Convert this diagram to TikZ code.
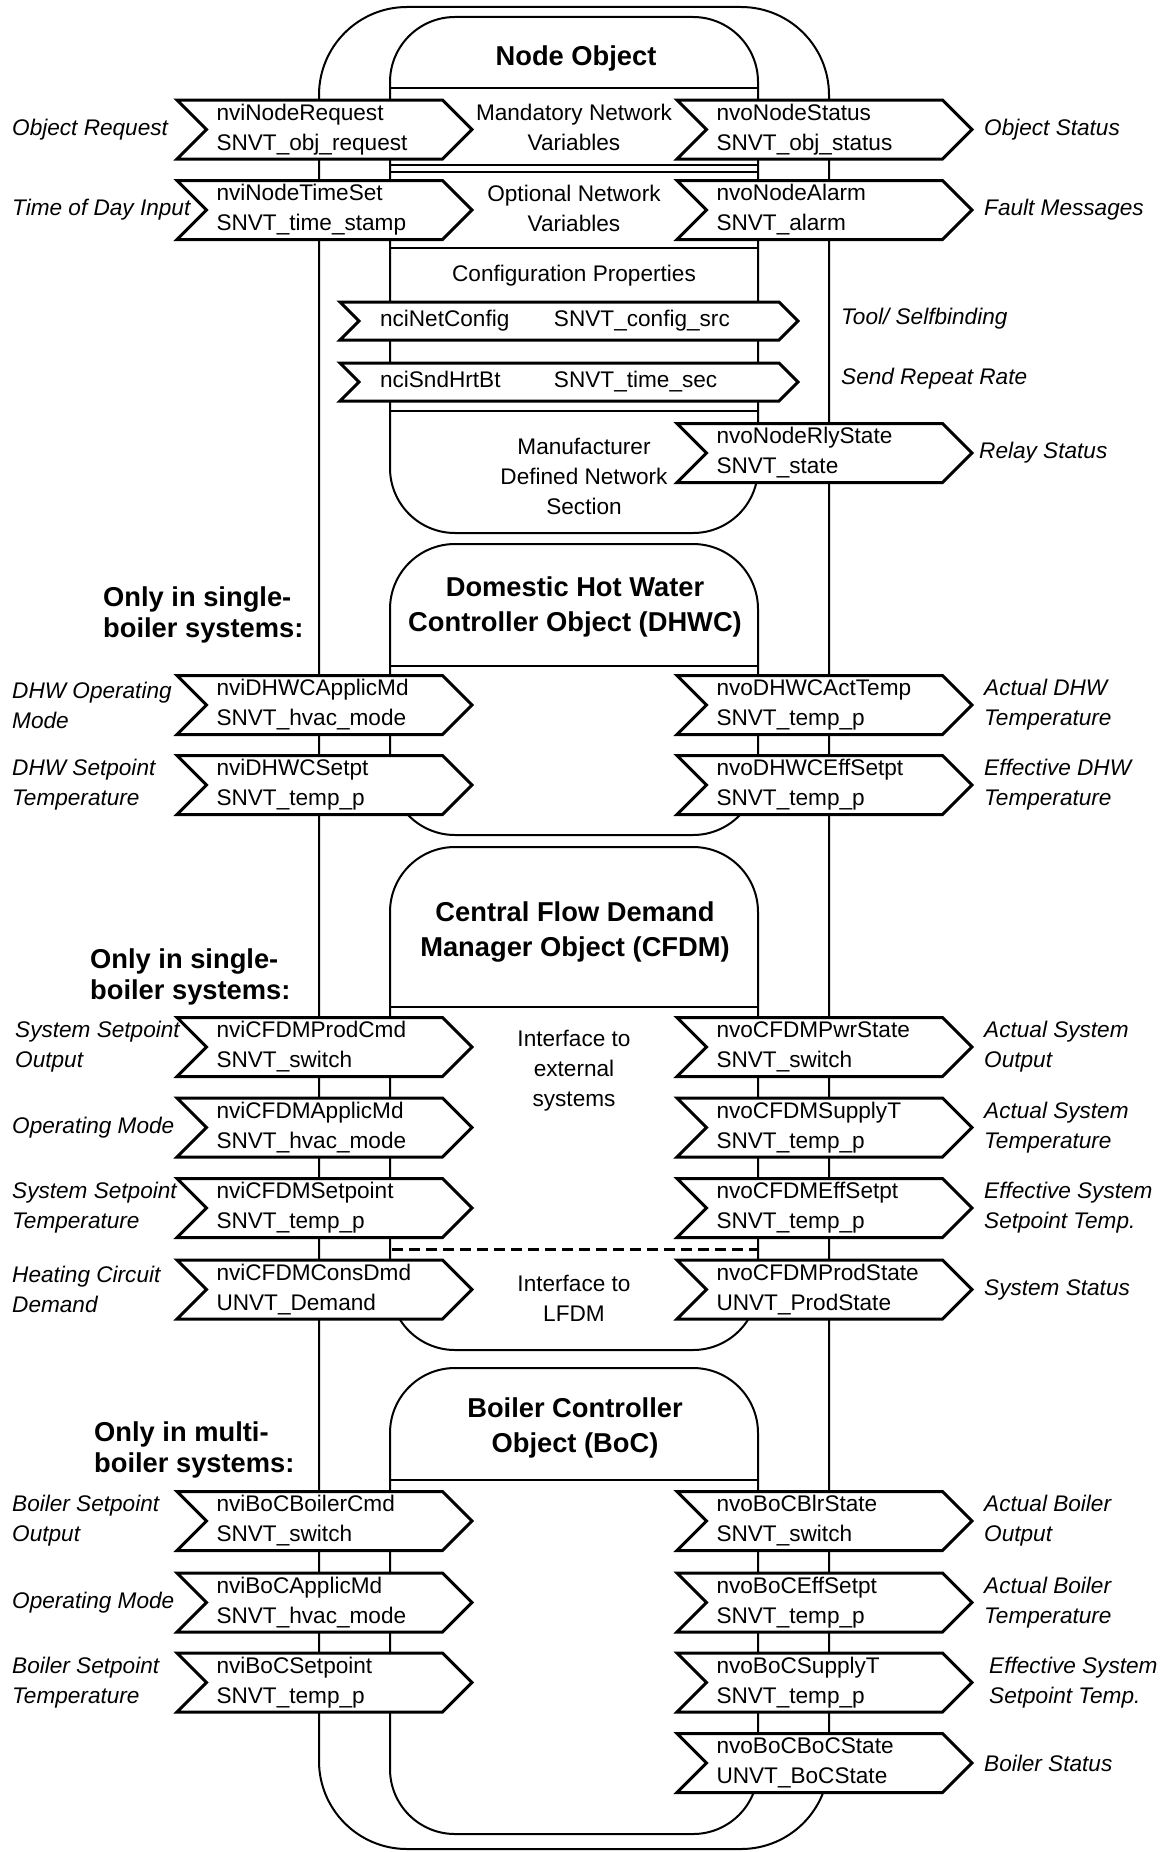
\documentclass[tikz,border=0pt]{standalone}
\usepackage{fontspec}
\setmainfont{Liberation Sans}
\usepackage{xcolor}
\usepackage{tikz}
\usetikzlibrary{shapes.symbols, calc}
\definecolor{ink}{HTML}{000000}
\newcommand{\vartxt}{\fontsize{22.6}{30}\selectfont}
\newcommand{\headtxt}{\fontsize{27.3}{35}\selectfont\bfseries}
\newcommand{\notetxt}{\fontsize{27.3}{31}\selectfont\bfseries}

\tikzset{
  shell/.style={draw=ink, line width=2pt, rounded corners=88pt},
  objbox/.style={draw=ink, line width=2pt, rounded corners=65pt},
  sepline/.style={draw=ink, line width=2pt},
  nvin/.style={shape=signal, signal from=west, signal to=east,
    signal pointer angle=90, draw=ink, fill=white, line width=3pt,
    inner xsep=10pt, inner ysep=0pt, minimum height=59pt,
    text width=216pt, align=left, font=\vartxt},
  nci/.style={nvin, minimum height=38pt, inner xsep=21pt, text width=378pt},
  sidelbl/.style={font=\vartxt\itshape, align=left, anchor=west, inner sep=0pt},
  midtxt/.style={font=\vartxt, align=center, inner sep=0pt},
  objtitle/.style={font=\headtxt, align=center, inner sep=0pt},
  onlynote/.style={font=\notetxt, align=left, anchor=west, inner sep=0pt}
}

\begin{document}
\begin{tikzpicture}[x=1pt, y=-1pt]
  \useasboundingbox (0,0) rectangle (1160,1852);
  % outer frame and the four object boxes
  \draw[shell] (319,7) rectangle (829,1849);
  \draw[objbox] (390,17) rectangle (758,533);
  \draw[objbox] (390,544) rectangle (758,835);
  \draw[objbox] (390,847) rectangle (758,1350);
  \draw[objbox] (390,1368) rectangle (758,1834);
  % section lines inside the boxes
  \foreach \y in {88, 165, 172, 248, 411, 666, 1007, 1480}
    \draw[sepline] (390,\y) -- (758,\y);
  \draw[sepline, line width=3pt, dash pattern=on 11pt off 6pt] (392,1249) -- (757,1249);

  % object titles
  \node[objtitle] (nodeobj) at (576,58) {Node Object};
  \node[objtitle] (dhwc) at (575,607) {Domestic Hot Water\\Controller Object (DHWC)};
  \node[objtitle] (cfdm) at (575,932) {Central Flow Demand\\Manager Object (CFDM)};
  \node[objtitle] (boc) at (575,1428) {Boiler Controller\\Object (BoC)};

  \node[onlynote] (single-dhwc) at (103,615) {Only in single-\\boiler systems:};
  \node[onlynote] (single-cfdm) at (90,977) {Only in single-\\boiler systems:};
  \node[onlynote] (multi-boc) at (94,1450) {Only in multi-\\boiler systems:};

  % section texts
  \node[midtxt] (mand) at (574,127) {Mandatory Network\\Variables};
  \node[midtxt] (opt) at (574,208) {Optional Network\\Variables};
  \node[midtxt] (cfgprop) at (574,276) {Configuration Properties};
  \node[midtxt] (manu) at (584,476) {Manufacturer\\Defined Network\\Section};
  \node[midtxt] (extsys) at (574,1071) {Interface to\\external\\systems};
  \node[midtxt] (lfdm) at (574,1298) {Interface to\\LFDM};

  % input network variables
  \foreach \n/\yy/\va/\ty/\lx/\lab in {
      nreq/129.5/nviNodeRequest/SNVT\_obj\_request/12/Object Request,
      ntime/210/nviNodeTimeSet/SNVT\_time\_stamp/12/Time of Day Input,
      dmode/705/nviDHWCApplicMd/SNVT\_hvac\_mode/12/DHW Operating\\Mode,
      dset/785/nviDHWCSetpt/SNVT\_temp\_p/12/DHW Setpoint\\Temperature,
      cprod/1047/nviCFDMProdCmd/SNVT\_switch/15/System Setpoint\\Output,
      cmode/1127.5/nviCFDMApplicMd/SNVT\_hvac\_mode/12/Operating Mode,
      cset/1208/nviCFDMSetpoint/SNVT\_temp\_p/12/System Setpoint\\Temperature,
      ccons/1289.5/nviCFDMConsDmd/UNVT\_Demand/12/Heating Circuit\\Demand,
      bcmd/1521/nviBoCBoilerCmd/SNVT\_switch/12/Boiler Setpoint\\Output,
      bmode/1602.5/nviBoCApplicMd/SNVT\_hvac\_mode/12/Operating Mode,
      bset/1682.5/nviBoCSetpoint/SNVT\_temp\_p/12/Boiler Setpoint\\Temperature}{
    \node[nvin] (in-\n) at (324.5,\yy) {\va\\\ty};
    \node[sidelbl] (inlbl-\n) at (\lx,\yy) {\lab};
  }

  % output network variables
  \foreach \n/\yy/\va/\ty/\lx/\lab in {
      nstat/129.5/nvoNodeStatus/SNVT\_obj\_status/984/Object Status,
      nalarm/210/nvoNodeAlarm/SNVT\_alarm/984/Fault Messages,
      nrly/453/nvoNodeRlyState/SNVT\_state/979/Relay Status,
      dact/705/nvoDHWCActTemp/SNVT\_temp\_p/984/Actual DHW\\Temperature,
      deff/785/nvoDHWCEffSetpt/SNVT\_temp\_p/984/Effective DHW\\Temperature,
      cpwr/1047/nvoCFDMPwrState/SNVT\_switch/984/Actual System\\Output,
      csup/1127.5/nvoCFDMSupplyT/SNVT\_temp\_p/984/Actual System\\Temperature,
      ceff/1208/nvoCFDMEffSetpt/SNVT\_temp\_p/984/Effective System\\Setpoint Temp.,
      cstate/1289.5/nvoCFDMProdState/UNVT\_ProdState/984/System Status,
      bblr/1521/nvoBoCBlrState/SNVT\_switch/984/Actual Boiler\\Output,
      beff/1602.5/nvoBoCEffSetpt/SNVT\_temp\_p/984/Actual Boiler\\Temperature,
      bsup/1682.5/nvoBoCSupplyT/SNVT\_temp\_p/989/Effective System\\Setpoint Temp.,
      bstate/1763/nvoBoCBoCState/UNVT\_BoCState/984/Boiler Status}{
    \node[nvin] (out-\n) at (824.5,\yy) {\va\\\ty};
    \node[sidelbl] (outlbl-\n) at (\lx,\yy) {\lab};
  }

  % configuration properties
  \node[nci] (cfg-net) at (569,321) {\makebox[174pt][l]{nciNetConfig}SNVT\_config\_src};
  \node[nci] (cfg-hrt) at (569,382) {\makebox[174pt][l]{nciSndHrtBt}SNVT\_time\_sec};
  \node[sidelbl] (cfglbl-net) at (841,319) {Tool/ Selfbinding};
  \node[sidelbl] (cfglbl-hrt) at (841,379) {Send Repeat Rate};
\end{tikzpicture}
\end{document}
